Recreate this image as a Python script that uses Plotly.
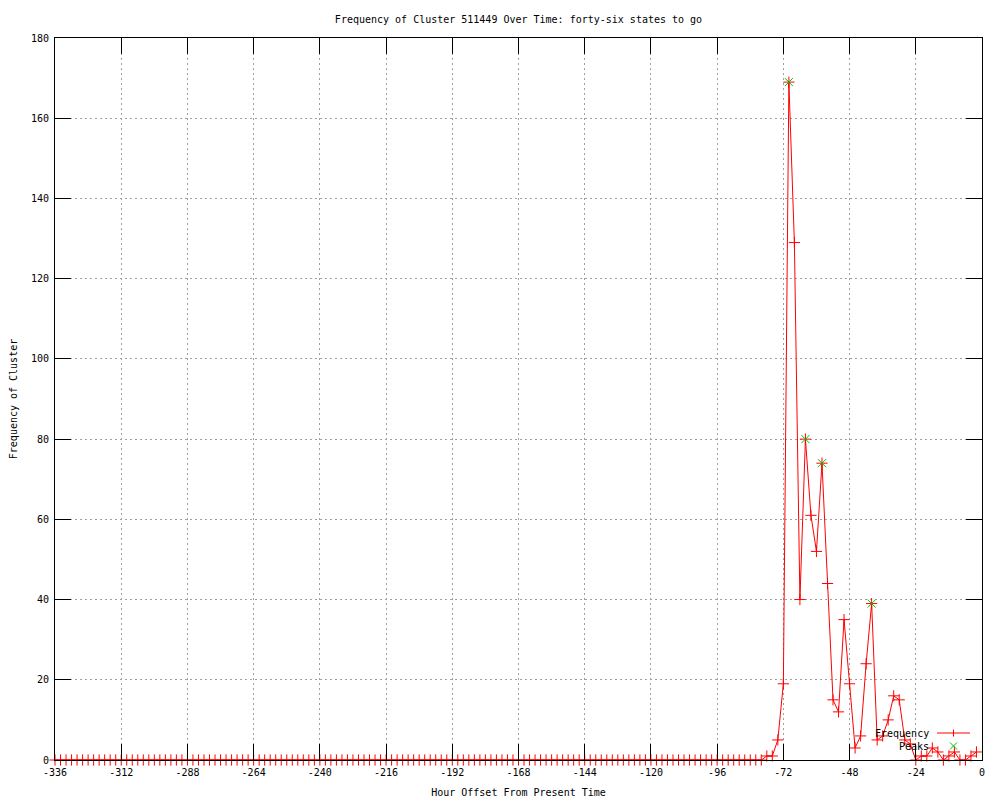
import plotly.graph_objects as go

hours = list(range(-336, 0, 2))
freq = [
    0, 0, 0, 0, 0, 0, 0, 0, 0, 0, 0, 0, 0, 0, 0, 0,
    0, 0, 0, 0, 0, 0, 0, 0, 0, 0, 0, 0, 0, 0, 0, 0,
    0, 0, 0, 0, 0, 0, 0, 0, 0, 0, 0, 0, 0, 0, 0, 0,
    0, 0, 0, 0, 0, 0, 0, 0, 0, 0, 0, 0, 0, 0, 0, 0,
    0, 0, 0, 0, 0, 0, 0, 0, 0, 0, 0, 0, 0, 0, 0, 0,
    0, 0, 0, 0, 0, 0, 0, 0, 0, 0, 0, 0, 0, 0, 0, 0,
    0, 0, 0, 0, 0, 0, 0, 0, 0, 0, 0, 0, 0, 0, 0, 0,
    0, 0, 0, 0, 0, 0, 0, 0, 0, 0, 0, 0, 0, 0, 0, 0,
    0,
    1, 1, 5, 19, 169, 129, 40, 80, 61, 52, 74, 44, 15, 12, 35, 19,
    3, 6, 24, 39, 5, 6, 10, 16, 15, 5, 4, 0, 1, 1, 3, 2,
    0, 1, 2, 0, 0, 1, 2,
]
peak_hours = [-70, -64, -58, -40]
peak_values = [169, 80, 74, 39]

x_tickvals = [-336, -312, -288, -264, -240, -216, -192, -168, -144, -120, -96, -72, -48, -24, 0]
x_ticktext = ["-336", "-312", "-288", "-264", "-240", "-216", "-192", "-168", "-144",
              "-120", "-96", "-72", "-48", "-24", "0"]
y_tickvals = [0, 20, 40, 60, 80, 100, 120, 140, 160, 180]
series_names = ["Frequency", "Peaks"]
series_colors = ["#ff0000", "#00c000"]

FONT = "DejaVu Sans Mono"
W, H = 1000, 800
ML, MR, MT, MB = 55, 18, 38, 40
PW, PH = W - ML - MR, H - MT - MB


def px_x(p):
    return (p - ML) / PW


def px_y(p):
    return (H - MB - p) / PH


fig = go.Figure()
fig.add_trace(go.Scatter(
    x=hours, y=freq, mode="lines+markers", name=series_names[0], cliponaxis=False,
    line=dict(color=series_colors[0], width=1),
    marker=dict(symbol="cross-thin", size=8, line=dict(color=series_colors[0], width=1), color=series_colors[0]),
))
fig.add_trace(go.Scatter(
    x=peak_hours, y=peak_values, mode="markers", name=series_names[1], cliponaxis=False,
    marker=dict(symbol="x-thin", size=8, line=dict(color=series_colors[1], width=1), color=series_colors[1]),
))

axis_common = dict(
    showline=True, linecolor="black", linewidth=1, mirror="ticks",
    ticks="inside", ticklen=16, tickwidth=1, tickcolor="black",
    showgrid=True, gridcolor="#a0a0a0", griddash="2px,3px", gridwidth=1,
    zeroline=False, ticklabelstandoff=3, automargin=False,
    tickfont=dict(family=FONT, size=10, color="black"),
)

fig.update_xaxes(
    range=[-336, 0], tickvals=x_tickvals, ticktext=x_ticktext,
    title=dict(text="Hour Offset From Present Time", font=dict(family=FONT, size=10, color="black"), standoff=11),
    **axis_common,
)
fig.update_yaxes(
    range=[0, 180], tickvals=y_tickvals,
    title=dict(text="Frequency of Cluster", font=dict(family=FONT, size=10, color="black"), standoff=11),
    **axis_common,
)

fig.update_layout(
    width=W, height=H,
    margin=dict(l=ML, r=MR, t=MT, b=MB, autoexpand=False),
    paper_bgcolor="white", plot_bgcolor="white",
    hovermode=False,
    title=dict(text="Frequency of Cluster 511449 Over Time: forty-six states to go",
               font=dict(family=FONT, size=10, color="black"),
               x=0.5, xref="paper", xanchor="center", y=1 - 19 / H, yanchor="middle"),
    showlegend=False,
    font=dict(family=FONT, size=10, color="black"),
)

# gnuplot-style key: text on the left, sample on the right
key_rows = [733, 746]
key_line = dict(x0=937, x1=970)
key_mark_x, key_mark_half = 953.5, 3.5


def key_seg(xa, ya, xb, yb, color):
    fig.add_shape(type="line", xref="paper", yref="paper",
                  x0=px_x(xa), y0=px_y(ya), x1=px_x(xb), y1=px_y(yb),
                  line=dict(color=color, width=1))


for name, ypix in zip(series_names, key_rows):
    fig.add_annotation(text=name, xref="paper", yref="paper",
                       x=px_x(931), y=px_y(ypix),
                       xanchor="right", yanchor="middle", showarrow=False,
                       font=dict(family=FONT, size=10, color="black"))

# Frequency sample: line with a "+" in the middle
r0 = key_rows[0]
key_seg(key_line["x0"], r0, key_line["x1"], r0, series_colors[0])
key_seg(key_mark_x, r0 - key_mark_half, key_mark_x, r0 + key_mark_half, series_colors[0])
# Peaks sample: an "x"
r1 = key_rows[1]
key_seg(key_mark_x - key_mark_half, r1 - key_mark_half, key_mark_x + key_mark_half, r1 + key_mark_half, series_colors[1])
key_seg(key_mark_x - key_mark_half, r1 + key_mark_half, key_mark_x + key_mark_half, r1 - key_mark_half, series_colors[1])

fig.write_html("out.html", config={"displayModeBar": False},
               post_script="document.body.style.margin='0px';document.body.style.overflow='hidden';")
